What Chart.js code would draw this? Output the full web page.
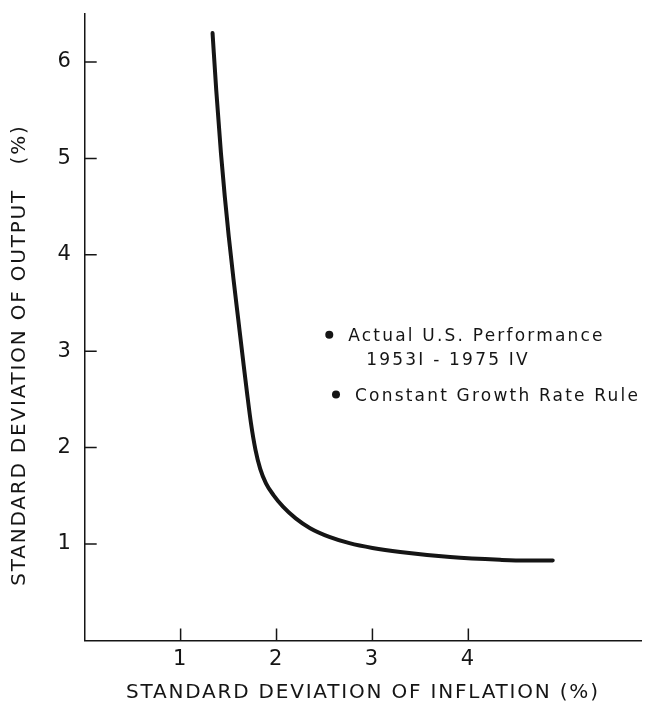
<!DOCTYPE html>
<html lang="en">
<head>
<meta charset="UTF-8" />
<meta name="viewport" content="width=device-width, initial-scale=1.0" />
<title>Standard deviation of output vs inflation</title>
<script src="https://cdn.jsdelivr.net/npm/chart.js@4.4.1/dist/chart.umd.min.js"></script>
<style>
  html, body { margin: 0; padding: 0; background: #fff; }
  canvas { display: block; }
</style>
</head>
<body>
<canvas id="myChart" width="645" height="711"></canvas>
<script>
// trade-off curve
const frontierX = [1.333, 1.372, 1.421, 1.461, 1.502, 1.551, 1.602, 1.652, 1.691, 1.734, 1.780, 1.830, 1.89, 1.97, 2.07, 2.20, 2.35, 2.55, 2.76, 3.00, 3.29, 3.81, 4.33, 4.60, 4.88];
const frontierY = [6.30, 5.70, 5.05, 4.60, 4.19, 3.75, 3.32, 2.90, 2.58, 2.25, 1.98, 1.78, 1.63, 1.505, 1.385, 1.266, 1.164, 1.074, 1.009, 0.959, 0.917, 0.865, 0.836, 0.828, 0.83];

// the two marked points
const pointNotes = [["Actual U.S. Performance", "1953I - 1975 IV"], ["Constant Growth Rate Rule"]];
const pointX = [2.55, 2.62];
const pointY = [3.17, 2.55];

const xTicks = [1, 2, 3, 4];
const yTicks = [1, 2, 3, 4, 5, 6];

const xTitle = "STANDARD DEVIATION OF INFLATION (%)";
const yTitle = "STANDARD DEVIATION OF OUTPUT   (%)";

const ink = "#151515";
const fontName = '"DejaVu Sans", "Liberation Sans", sans-serif';

const figureExtras = {
  id: "figureExtras",
  beforeDraw(chart) {
    chart.ctx.letterSpacing = "1.8px";
  },
  afterDraw(chart) {
    const { ctx, chartArea, scales: { x, y } } = chart;

    // tick marks point into the plot
    ctx.save();
    ctx.strokeStyle = ink;
    ctx.lineWidth = 1.5;
    ctx.beginPath();
    x.ticks.forEach(t => {
      const px = x.getPixelForValue(t.value);
      ctx.moveTo(px, chartArea.bottom);
      ctx.lineTo(px, chartArea.bottom - 12);
    });
    y.ticks.forEach(t => {
      const py = y.getPixelForValue(t.value);
      ctx.moveTo(chartArea.left, py);
      ctx.lineTo(chartArea.left + 12, py);
    });
    ctx.stroke();

    // y title sits a bit low, like the original
    ctx.fillStyle = ink;
    ctx.font = "20px " + fontName;
    ctx.letterSpacing = "1.8px";
    ctx.textAlign = "center";
    ctx.textBaseline = "middle";
    ctx.translate(20, (chartArea.top + chartArea.bottom) / 2 + 28);
    ctx.rotate(-Math.PI / 2);
    ctx.fillText(yTitle, 0, 0);
    ctx.restore();

    // notes next to the points
    ctx.save();
    ctx.fillStyle = ink;
    ctx.font = "17px " + fontName;
    ctx.letterSpacing = "2.2px";
    ctx.textAlign = "left";
    ctx.textBaseline = "middle";
    pointNotes.forEach((lines, i) => {
      const px = x.getPixelForValue(pointX[i]);
      const py = y.getPixelForValue(pointY[i]);
      lines.forEach((line, j) => {
        ctx.fillText(line, px + 19 + (j ? 18 : 0), py + 2 + j * 24);
      });
    });
    ctx.restore();
  }
};

const ctx = document.getElementById("myChart");

new Chart(ctx, {
  type: "scatter",
  data: {
    datasets: [
      {
        data: frontierX.map((v, i) => ({ x: v, y: frontierY[i] })),
        showLine: true,
        borderColor: ink,
        borderWidth: 4,
        borderCapStyle: "round",
        borderJoinStyle: "round",
        cubicInterpolationMode: "monotone",
        pointRadius: 0,
      },
      {
        data: pointX.map((v, i) => ({ x: v, y: pointY[i] })),
        backgroundColor: ink,
        borderWidth: 0,
        pointRadius: 4,
      },
    ],
  },
  options: {
    responsive: false,
    animation: false,
    layout: { padding: { left: 0, right: 3.5, top: 13.8, bottom: 0 } },
    plugins: {
      legend: { display: false },
      tooltip: { enabled: false },
    },
    scales: {
      x: {
        type: "linear",
        min: 0,
        max: 5.8,
        afterBuildTicks: s => { s.ticks = xTicks.map(v => ({ value: v })); },
        afterFit: s => { s.height = 70.6; s.paddingLeft = 0; s.paddingRight = 0; },
        grid: { display: false, drawTicks: false },
        border: { display: true, color: ink, width: 1.5 },
        ticks: { color: ink, padding: 7, font: { family: fontName, size: 21 } },
        title: {
          display: true,
          text: xTitle,
          color: ink,
          font: { family: fontName, size: 20 },
          padding: { top: 0, bottom: 6 },
        },
      },
      y: {
        type: "linear",
        min: 0,
        max: 6.5,
        afterBuildTicks: s => { s.ticks = yTicks.map(v => ({ value: v })); },
        afterFit: s => { s.width = 84.7; s.paddingTop = 0; s.paddingBottom = 0; },
        grid: { display: false, drawTicks: false },
        border: { display: true, color: ink, width: 1.5 },
        ticks: { color: ink, padding: 12, font: { family: fontName, size: 21 } },
      },
    },
  },
  plugins: [figureExtras],
});
</script>
</body>
</html>
